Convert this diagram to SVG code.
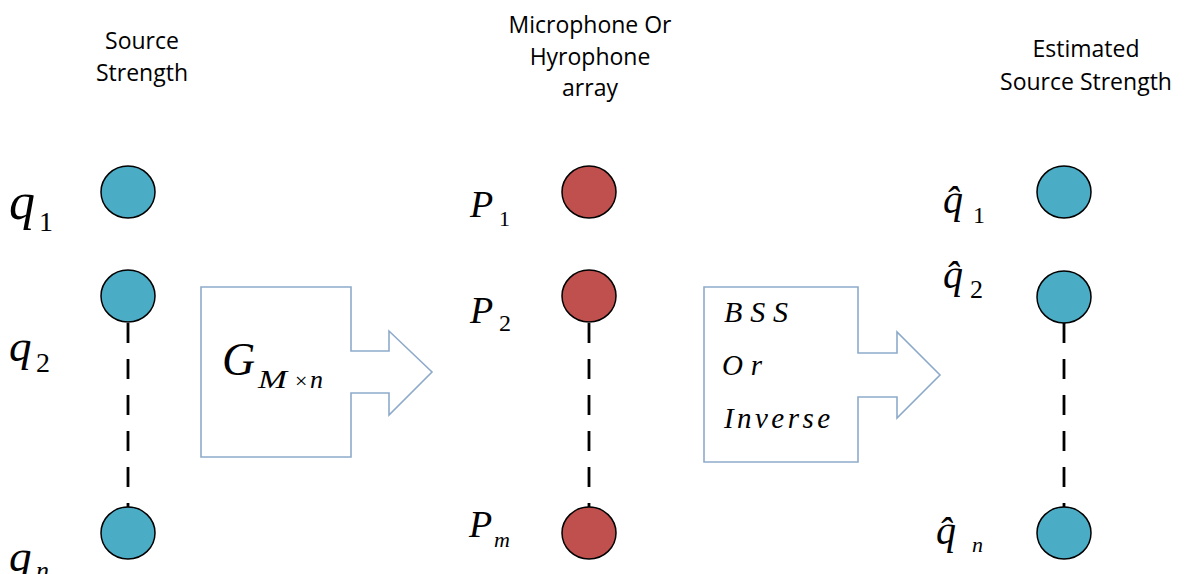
<svg xmlns="http://www.w3.org/2000/svg" width="1187" height="574" viewBox="0 0 1187 574">
<style>
.hdr{font-family:"Open Sans","Liberation Sans",sans-serif;font-size:23px;fill:#000;text-anchor:middle}
.m{font-family:"Liberation Serif","Times New Roman",serif;font-style:italic;fill:#000}
.up{font-family:"Liberation Serif","Times New Roman",serif;font-style:normal;fill:#000}
.src{fill:#4BACC6;stroke:#000;stroke-width:1.5}
.mic{fill:#C0504D;stroke:#000;stroke-width:1.5}
.arr{fill:#fff;stroke:#8EAACB;stroke-width:1.6}
.dash{stroke:#000;stroke-width:2.8;stroke-dasharray:20 16;fill:none}
</style>
<rect width="1187" height="574" fill="#fff"/>

<g id="headers">
<text class="hdr" x="142" y="49">Source</text>
<text class="hdr" x="142" y="81">Strength</text>
<text class="hdr" x="590" y="33">Microphone Or</text>
<text class="hdr" x="590" y="65">Hyrophone</text>
<text class="hdr" x="590" y="96">array</text>
<text class="hdr" x="1086" y="57">Estimated</text>
<text class="hdr" x="1086" y="90">Source Strength</text>
</g>

<g id="connectors">
<line class="dash" x1="128" y1="323" x2="128" y2="507"/>
<line class="dash" x1="589" y1="323" x2="589" y2="507"/>
<line class="dash" x1="1064" y1="323" x2="1064" y2="507"/>
</g>

<g id="source-1"><ellipse class="src" cx="128" cy="192" rx="27" ry="26"/>
<text class="m" x="9" y="219" font-size="52">q</text><text class="up" x="39" y="231" font-size="28">1</text></g>
<g id="source-2"><ellipse class="src" cx="128" cy="296" rx="27" ry="26"/>
<text class="m" x="9" y="361" font-size="45">q</text><text class="up" x="36" y="372" font-size="28">2</text></g>
<g id="source-n"><ellipse class="src" cx="128" cy="533" rx="27" ry="26"/>
<text class="m" x="9" y="571" font-size="45">q</text><text class="m" x="36" y="579" font-size="26">n</text></g>

<g id="transfer">
<path class="arr" d="M201,287 H351 V351 H389 V331 L432,372 L389,415 V393 H351 V457 H201 Z"/>
<text class="m" x="222" y="375" font-size="46">G</text>
<text class="m" y="388" font-size="26"><tspan x="258" textLength="29" lengthAdjust="spacingAndGlyphs">M</tspan><tspan x="295" style="font-style:normal" font-size="22">×</tspan><tspan x="310">n</tspan></text>
</g>

<g id="mic-1"><ellipse class="mic" cx="589" cy="192" rx="27" ry="26"/>
<text class="m" x="470" y="217" font-size="38">P</text><text class="up" x="499" y="226" font-size="22">1</text></g>
<g id="mic-2"><ellipse class="mic" cx="589" cy="296" rx="27" ry="26"/>
<text class="m" x="470" y="323" font-size="38">P</text><text class="up" x="499" y="331" font-size="24">2</text></g>
<g id="mic-m"><ellipse class="mic" cx="589" cy="533" rx="27" ry="26"/>
<text class="m" x="469" y="537" font-size="38">P</text><text class="m" x="494" y="547" font-size="22">m</text></g>

<g id="estimator">
<path class="arr" d="M704,287 H858 V353 H897 V332 L940,375 L897,418 V397 H858 V462 H704 Z"/>
<text class="m" x="724" y="322" font-size="30" textLength="64" lengthAdjust="spacing">BSS</text>
<text class="m" x="722" y="375" font-size="29" textLength="40" lengthAdjust="spacing">Or</text>
<text class="m" x="724" y="428" font-size="29" textLength="106" lengthAdjust="spacing">Inverse</text>
</g>

<g id="estimate-1"><ellipse class="src" cx="1064" cy="192" rx="27" ry="26"/>
<text class="m" x="943" y="213" font-size="40">q̂</text><text class="up" x="973" y="223" font-size="24">1</text></g>
<g id="estimate-2"><ellipse class="src" cx="1064" cy="297" rx="27" ry="26"/>
<text class="m" x="943" y="288" font-size="40">q̂</text><text class="up" x="970" y="298" font-size="26">2</text></g>
<g id="estimate-n"><ellipse class="src" cx="1064" cy="533" rx="27" ry="26"/>
<text class="m" x="936" y="544" font-size="40">q̂</text><text class="m" x="972" y="552" font-size="22">n</text></g>
</svg>
